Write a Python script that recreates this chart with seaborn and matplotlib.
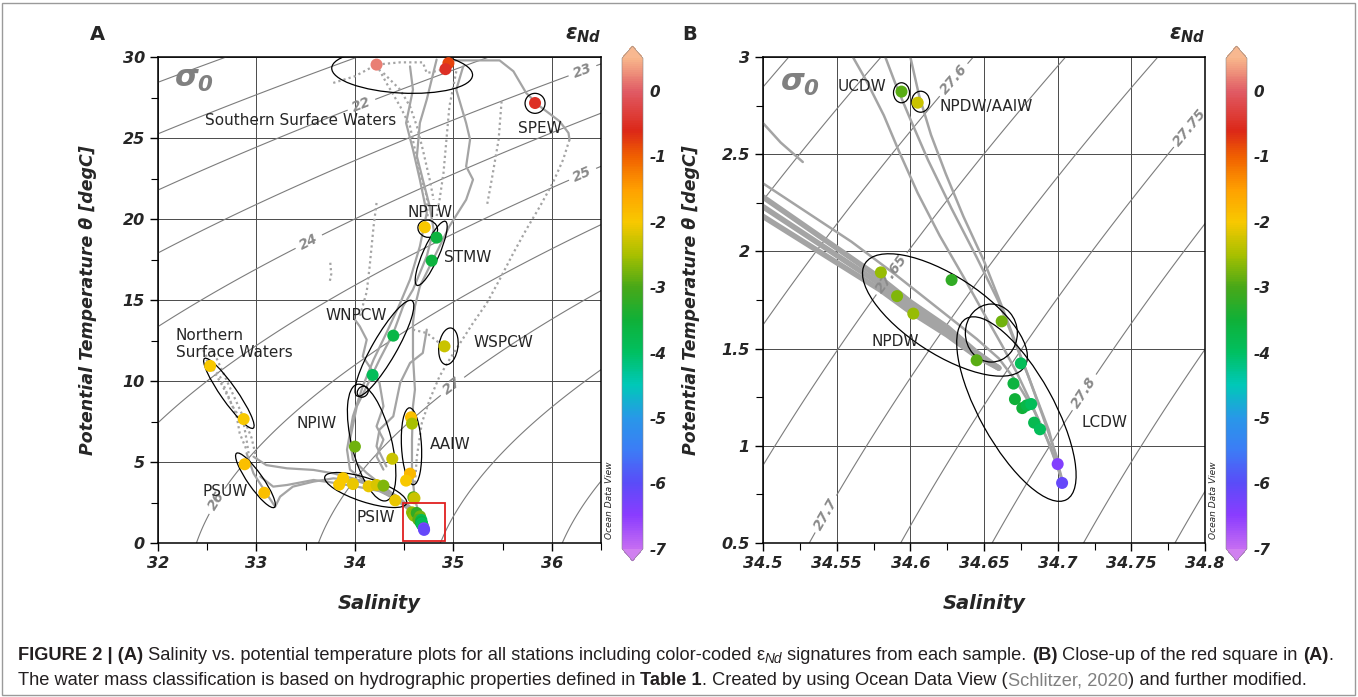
import numpy as np
import matplotlib
matplotlib.use('Agg')
import matplotlib.pyplot as plt
import matplotlib.transforms as mtrans
from matplotlib.patches import Ellipse, Rectangle
from matplotlib.colors import LinearSegmentedColormap, Normalize
from matplotlib.cm import ScalarMappable
from matplotlib.ticker import MultipleLocator, FormatStrFormatter
import seaborn as sns

sns.set_style('white')
plt.rcParams['font.family'] = ['DejaVu Sans']
plt.rcParams['mathtext.fontset'] = 'custom'
plt.rcParams['mathtext.it'] = 'DejaVu Sans:italic:bold'
plt.rcParams['mathtext.rm'] = 'DejaVu Sans:italic:bold'

W, H = 1358, 697

# --- eNd samples, panel A (shallow / intermediate waters)
SAL_A = [34.22, 34.95, 34.92, 35.83, 34.71, 34.83, 34.78, 34.39, 34.18, 34.91,
         34.00, 34.38, 34.57, 34.58, 34.56, 34.52, 33.88, 33.84, 33.98, 34.14,
         34.22, 34.29, 34.41, 32.53, 32.87, 32.88, 33.08]
TEMP_A = [29.53, 29.62, 29.25, 27.16, 19.49, 18.85, 17.43, 12.80, 10.37, 12.14,
          5.95, 5.20, 7.76, 7.37, 4.28, 3.85, 4.00, 3.60, 3.64, 3.50,
          3.58, 3.54, 2.63, 10.93, 7.65, 4.86, 3.10]
EPS_A = [0.2, -0.8, -0.5, -0.5, -2.0, -3.6, -3.6, -3.7, -3.9, -2.3,
         -2.8, -2.3, -1.9, -2.5, -1.8, -2.0, -2.0, -2.0, -2.1, -2.1,
         -2.2, -2.7, -2.1, -2.0, -2.0, -1.9, -1.9]

# --- eNd samples, deep waters (red square / panel B)
SAL_B = [34.594, 34.605, 34.580, 34.591, 34.602, 34.628, 34.662, 34.645, 34.675,
         34.670, 34.671, 34.676, 34.679, 34.682, 34.684, 34.688, 34.700, 34.703]
TEMP_B = [2.822, 2.765, 1.892, 1.770, 1.680, 1.853, 1.640, 1.440, 1.424,
          1.320, 1.240, 1.194, 1.208, 1.215, 1.119, 1.085, 0.906, 0.809]
EPS_B = [-2.9, -2.3, -2.6, -2.7, -2.6, -3.2, -2.8, -2.9, -3.9,
         -3.6, -3.5, -3.5, -3.7, -3.9, -3.8, -3.9, -6.4, -6.1]

# --- CTD profiles, panel A (solid)
spew_s = [34.93, 35.47, 35.61, 35.74, 35.88, 36.08, 36.17, 36.18]
spew_t = [29.79, 29.79, 29.12, 27.78, 26.95, 26.03, 25.31, 24.90]
main_s = [35.10, 35.03, 35.13, 35.17, 35.13, 35.20, 35.13, 34.96, 34.86, 34.76,
          34.66, 34.61, 34.59, 34.59, 34.61, 34.59, 34.58, 34.58, 34.61, 34.69]
main_t = [29.42, 27.98, 25.92, 24.90, 23.25, 22.43, 21.19, 19.55, 18.31, 17.08,
          15.84, 14.61, 13.58, 11.52, 9.47, 8.44, 6.38, 4.32, 2.67, 1.03]
np1_s = [34.83, 34.73, 34.66, 34.63, 34.69, 34.76, 34.80, 34.73, 34.59, 34.49,
         34.39, 34.25, 34.12, 34.02, 33.95, 33.98, 34.12, 34.29, 34.46, 34.59, 34.69]
np1_t = [29.84, 27.37, 25.93, 23.87, 22.43, 20.78, 19.34, 17.70, 15.64, 14.61,
         12.96, 11.32, 9.67, 8.44, 6.38, 5.14, 4.32, 3.50, 2.67, 1.85, 1.03]
np2_s = [34.56, 34.59, 34.52, 34.59, 34.66, 34.73, 34.66, 34.56, 34.46, 34.32,
         34.19, 34.08, 33.98, 33.92, 33.95, 34.08, 34.25, 34.46, 34.63, 34.71]
np2_t = [29.42, 27.98, 25.93, 24.28, 22.43, 20.37, 18.31, 16.26, 14.81, 12.96,
         11.32, 9.67, 7.82, 5.76, 4.53, 3.91, 3.29, 2.47, 1.65, 0.82]
wig1_s = [34.00, 34.05, 34.12, 34.08, 34.17, 34.25, 34.29, 34.22, 34.29, 34.22, 34.29]
wig1_t = [13.79, 13.37, 12.55, 11.52, 10.70, 9.88, 8.44, 7.20, 6.38, 5.35, 4.53]
wig2_s = [34.73, 34.69, 34.56, 34.46, 34.39, 34.25, 34.22, 34.32]
wig2_t = [13.17, 11.73, 11.11, 9.88, 7.82, 7.00, 5.97, 4.73]
nsol1_s = [32.90, 32.97, 33.10, 33.19, 33.24, 33.37, 33.58, 33.78, 33.98, 34.20, 34.40, 34.55, 34.65, 34.70]
nsol1_t = [5.54, 4.30, 3.07, 2.24, 2.86, 3.48, 3.79, 3.99, 3.89, 3.50, 2.90, 2.20, 1.60, 1.00]
nsol2_s = [32.97, 33.10, 33.31, 33.58, 33.78, 33.98, 34.20, 34.40, 34.55, 34.67, 34.71]
nsol2_t = [5.33, 4.81, 4.61, 4.51, 4.30, 3.99, 3.60, 3.00, 2.30, 1.50, 0.90]
nsol3_s = [33.04, 33.17, 33.31, 33.58, 33.78, 34.02, 34.25, 34.45, 34.60, 34.68]
nsol3_t = [4.10, 3.48, 3.58, 3.89, 3.72, 3.48, 3.20, 2.60, 1.90, 1.20]

# --- CTD profiles, panel A (dotted)
spewd_s = [36.18, 36.115, 36.01, 35.88, 35.74, 35.61, 35.47, 35.34, 35.20, 35.07,
           34.96, 34.86, 34.76, 34.68, 34.63, 34.61]
spewd_t = [24.90, 23.66, 22.22, 20.78, 19.34, 17.90, 16.26, 14.81, 13.58, 12.35,
           11.32, 10.29, 8.85, 7.41, 5.35, 3.70]
ndot1_s = [32.46, 32.56, 32.66, 32.76, 32.87, 32.90, 32.92]
ndot1_t = [11.91, 10.68, 9.65, 8.41, 7.39, 6.36, 5.54]
ndot2_s = [32.49, 32.63, 32.73, 32.80, 32.83, 32.90]
ndot2_t = [11.30, 10.27, 8.83, 7.80, 6.77, 5.74]
ndot3_s = [32.55, 32.70, 32.85, 32.95, 33.00]
ndot3_t = [12.00, 10.00, 8.00, 6.50, 5.20]
udot1_s = [33.78, 34.00, 34.22, 34.46, 34.69, 34.73, 34.93]
udot1_t = [28.40, 28.81, 29.53, 29.67, 29.67, 29.01, 29.26]
udot2_s = [34.22, 34.32, 34.46, 34.56, 34.61, 34.66, 34.73, 34.74]
udot2_t = [29.53, 28.40, 26.95, 25.72, 24.28, 22.84, 21.40, 19.96]
udot3_s = [34.29, 34.46, 34.56, 34.63, 34.69, 34.76, 34.80]
udot3_t = [29.01, 27.98, 26.95, 25.72, 24.28, 22.43, 21.19]
udot4_s = [35.03, 34.96, 34.93, 34.90, 34.86, 34.83]
udot4_t = [29.12, 26.95, 24.90, 22.84, 21.19, 20.16]
udot5_s = [34.22, 34.19, 34.17, 34.15, 34.12, 34.05]
udot5_t = [20.99, 19.55, 18.31, 17.08, 15.50, 14.00]
udot6_s = [35.49, 35.46, 35.39, 35.34]
udot6_t = [27.26, 24.90, 22.43, 20.78]
udot7_s = [34.59, 34.73, 34.90]
udot7_t = [13.17, 12.96, 12.14]
udot8_s = [33.75, 33.76, 33.74]
udot8_t = [17.30, 16.60, 16.00]

# --- CTD profiles, panel B
b1_s = [34.561, 34.570, 34.582, 34.592, 34.605, 34.620, 34.636, 34.650, 34.662, 34.672, 34.682, 34.692, 34.702]
b1_t = [3.00, 2.88, 2.70, 2.52, 2.30, 2.08, 1.87, 1.68, 1.52, 1.38, 1.22, 1.05, 0.85]
b2_s = [34.583, 34.590, 34.600, 34.612, 34.628, 34.645, 34.660, 34.670, 34.680, 34.690, 34.700]
b2_t = [3.00, 2.86, 2.68, 2.47, 2.22, 1.97, 1.74, 1.55, 1.36, 1.15, 0.93]
b3_s = [34.600, 34.606, 34.614, 34.624, 34.636, 34.650, 34.662, 34.672, 34.683, 34.694, 34.704]
b3_t = [3.00, 2.80, 2.60, 2.40, 2.18, 1.95, 1.72, 1.52, 1.30, 1.08, 0.80]
b4_s = [34.500, 34.512, 34.527]
b4_t = [2.66, 2.56, 2.46]
b5_s = [34.500, 34.530, 34.560, 34.590, 34.620, 34.645, 34.660, 34.672, 34.684, 34.695, 34.703]
b5_t = [2.35, 2.20, 2.05, 1.88, 1.70, 1.55, 1.45, 1.33, 1.18, 1.00, 0.82]
band_s = [34.500, 34.540, 34.580, 34.600, 34.625, 34.645, 34.660]
band_top_t = [2.28, 2.07, 1.86, 1.74, 1.61, 1.48, 1.40]
band_mid_t = [2.23, 2.03, 1.83, 1.72, 1.59, 1.47, 1.40]
band_bot_t = [2.18, 1.99, 1.80, 1.69, 1.57, 1.46, 1.40]

# colour scale (ODV style)
CB_VALUES = [-7.0, -6.5, -6.0, -5.5, -5.0, -4.5, -4.0, -3.5, -3.0, -2.5, -2.0, -1.5, -1.0, -0.6, 0.0, 0.5]
CB_COLORS = ['#c46cf2', '#8a3cff', '#5a4cf8', '#3c7cf6', '#2898e8', '#00c8b8', '#00c060', '#10b038',
             '#48a818', '#a8c000', '#f8c800', '#ffa000', '#f06000', '#dc2818', '#e05a64', '#f7b48a']
VMIN, VMAX = -7, 0.5
pos = [(v - VMIN) / (VMAX - VMIN) for v in CB_VALUES]
cmap = LinearSegmentedColormap.from_list('odv', list(zip(pos, CB_COLORS)))
cmap.set_over('#f8b890')
cmap.set_under('#d080f0')
norm = Normalize(VMIN, VMAX)

TRACE_GREY = '#a4a4a4'
DOTTED = (0, (1, 1.4))


def sigma0(S, T):
    # UNESCO EOS-80 at the surface
    rw = (999.842594 + 6.793952e-2 * T - 9.095290e-3 * T**2 + 1.001685e-4 * T**3
          - 1.120083e-6 * T**4 + 6.536332e-9 * T**5)
    A = 8.24493e-1 - 4.0899e-3 * T + 7.6438e-5 * T**2 - 8.2467e-7 * T**3 + 5.3875e-9 * T**4
    B = -5.72466e-3 + 1.0227e-4 * T - 1.6546e-6 * T**2
    return rw + A * S + B * S**1.5 + 4.8314e-4 * S**2 - 1000


def ring(ax, s, t, w, h, ang, color='black'):
    tr = ax.figure.dpi_scale_trans + mtrans.ScaledTranslation(s, t, ax.transData)
    ax.add_patch(Ellipse((0, 0), w / 100, h / 100, angle=ang, fill=False, ec=color,
                         lw=0.9, transform=tr, zorder=4))


def style_axis(ax, xmaj, xmin, ymaj, ymin):
    ax.xaxis.set_major_locator(MultipleLocator(xmaj))
    ax.xaxis.set_minor_locator(MultipleLocator(xmin))
    ax.yaxis.set_major_locator(MultipleLocator(ymaj))
    ax.yaxis.set_minor_locator(MultipleLocator(ymin))
    ax.xaxis.set_major_formatter(FormatStrFormatter('%g'))
    ax.yaxis.set_major_formatter(FormatStrFormatter('%g'))
    ax.tick_params(which='both', direction='out', bottom=True, left=True, top=False, right=False,
                   color='black')
    ax.tick_params(which='major', length=6, width=1)
    ax.tick_params(which='minor', length=5, width=0.8)
    for lab in ax.get_xticklabels() + ax.get_yticklabels():
        lab.set_fontweight('bold')
        lab.set_fontstyle('italic')
        lab.set_fontsize(11.5)
    ax.grid(True, which='major', color='#4a4a4a', lw=0.7, zorder=0)
    for sp in ax.spines.values():
        sp.set_color('black')
        sp.set_linewidth(1.1)
    ax.set_xlabel('Salinity', fontsize=14, fontweight='bold', fontstyle='italic')
    ax.set_ylabel('Potential Temperature θ [degC]', fontsize=12.5, fontweight='bold',
                  fontstyle='italic')
    ax.xaxis.set_label_coords(0.5, -0.105)


def label_contours(ax, cs, spots):
    labs = ax.clabel(cs, fmt='%g', fontsize=10, colors='#8a8a8a', inline=True,
                     inline_spacing=6, manual=spots)
    for t in labs:
        t.set_fontweight('bold')
        t.set_fontstyle('italic')


fig = plt.figure(figsize=(W / 100, H / 100), dpi=100)
axA = fig.add_axes([158 / W, 1 - 543 / H, 443 / W, 486 / H])
axB = fig.add_axes([763 / W, 1 - 543 / H, 442 / W, 486 / H])

# ---------------- Panel A
axA.set_xlim(32, 36.5)
axA.set_ylim(0, 30)
Sg, Tg = np.meshgrid(np.linspace(31.9, 36.6, 300), np.linspace(-0.5, 30.5, 300))
csA = axA.contour(Sg, Tg, sigma0(Sg, Tg), levels=np.arange(20, 30), colors='#7c7c7c',
                  linewidths=0.8, zorder=1)
label_contours(axA, csA, [(34.07, 27.0), (36.31, 29.18), (33.54, 18.5), (36.31, 22.8),
                          (32.58, 2.65), (35.0, 9.6)])

for s, t in [(spew_s, spew_t), (main_s, main_t), (np1_s, np1_t), (np2_s, np2_t),
             (wig1_s, wig1_t), (wig2_s, wig2_t), (nsol1_s, nsol1_t), (nsol2_s, nsol2_t),
             (nsol3_s, nsol3_t)]:
    axA.plot(s, t, color=TRACE_GREY, lw=1.6, zorder=2, solid_capstyle='round')
for s, t in [(spewd_s, spewd_t), (ndot1_s, ndot1_t), (ndot2_s, ndot2_t), (ndot3_s, ndot3_t),
             (udot1_s, udot1_t), (udot2_s, udot2_t), (udot3_s, udot3_t), (udot4_s, udot4_t),
             (udot5_s, udot5_t), (udot6_s, udot6_t), (udot7_s, udot7_t), (udot8_s, udot8_t)]:
    axA.plot(s, t, color=TRACE_GREY, lw=1.6, ls=DOTTED, zorder=2)

ELL_A = [(34.48, 29.1, 141, 43, -3), (35.83, 27.14, 20, 20, 0), (34.74, 19.4, 20, 17, -20),
         (34.775, 17.88, 70, 16, 66), (34.30, 12.02, 110, 24, 60), (34.08, 9.34, 12, 10, 45),
         (34.17, 6.2, 120, 40, 104), (34.95, 12.14, 19, 37, -8), (34.575, 5.97, 20, 77, 3),
         (34.11, 3.27, 86, 24, -18), (32.72, 9.24, 85, 16, -55), (32.99, 3.87, 66, 15, -55)]
for e in ELL_A:
    ring(axA, *e)

sns.scatterplot(x=SAL_A + SAL_B, y=TEMP_A + TEMP_B, hue=EPS_A + EPS_B, palette=cmap,
                hue_norm=norm, s=75, linewidth=0, legend=False, ax=axA, zorder=5)
axA.add_patch(Rectangle((34.49, 0.12), 0.43, 2.33, fill=False, ec='#e02020', lw=1.3, zorder=6))

LABELS_A = [('Southern Surface Waters', 32.48, 26.1, 'left'), ('SPEW', 35.88, 25.6, 'center'),
            ('NPTW', 34.76, 20.4, 'center'), ('STMW', 34.91, 17.65, 'left'),
            ('WNPCW', 34.01, 14.07, 'center'), ('WSPCW', 35.20, 12.35, 'left'),
            ('Northern\nSurface Waters', 32.18, 12.3, 'left'), ('NPIW', 33.61, 7.35, 'center'),
            ('AAIW', 34.76, 6.05, 'left'), ('PSUW', 32.68, 3.2, 'center'), ('PSIW', 34.21, 1.6, 'center')]
for txt, x, y, ha in LABELS_A:
    axA.text(x, y, txt, fontsize=11, ha=ha, va='center', zorder=7, linespacing=1.2)
axA.text(32.36, 28.6, r'$\sigma_0$', fontsize=22, color='#808080', ha='center', va='center')
style_axis(axA, 1, 0.5, 5, 2.5)
axA.yaxis.set_label_coords(-0.138, 0.5)

# ---------------- Panel B
axB.set_xlim(34.5, 34.8)
axB.set_ylim(0.5, 3)
Sb, Tb = np.meshgrid(np.linspace(34.48, 34.82, 300), np.linspace(0.4, 3.1, 300))
csB = axB.contour(Sb, Tb, sigma0(Sb, Tb), levels=np.round(np.arange(27.45, 28.0, 0.05), 2),
                  colors='#7c7c7c', linewidths=0.8, zorder=1)
label_contours(axB, csB, [(34.622, 2.93), (34.581, 1.92), (34.531, 0.70), (34.785, 2.67),
                          (34.713, 1.30)])

for s, t in [(b1_s, b1_t), (b2_s, b2_t), (b3_s, b3_t), (b4_s, b4_t), (b5_s, b5_t)]:
    axB.plot(s, t, color=TRACE_GREY, lw=1.8, zorder=2)
for t in [band_top_t, band_mid_t, band_bot_t]:
    axB.plot(band_s, t, color=TRACE_GREY, lw=4, zorder=2, solid_capstyle='round')

ELL_B = [(34.594, 2.816, 16, 20, 0), (34.607, 2.77, 18, 21, 0), (34.6235, 1.673, 190, 78, -33),
         (34.655, 1.58, 52, 58, 0), (34.672, 1.189, 207, 74, -61)]
for e in ELL_B:
    ring(axB, *e)

sns.scatterplot(x=SAL_B, y=TEMP_B, hue=EPS_B, palette=cmap, hue_norm=norm, s=75, linewidth=0,
                legend=False, ax=axB, zorder=5)
LABELS_B = [('UCDW', 34.567, 2.846, 'center'), ('NPDW/AAIW', 34.62, 2.743, 'left'),
            ('NPDW', 34.59, 1.539, 'center'), ('LCDW', 34.7165, 1.122, 'left')]
for txt, x, y, ha in LABELS_B:
    axB.text(x, y, txt, fontsize=11, ha=ha, va='center', zorder=7)
axB.text(34.525, 2.866, r'$\sigma_0$', fontsize=22, color='#808080', ha='center', va='center')
style_axis(axB, 0.05, 0.025, 0.5, 0.25)
axB.yaxis.set_label_coords(-0.1425, 0.5)

# ---------------- colour bars
for cx, lx in [(622, 583), (1226, 1187)]:
    cax = fig.add_axes([cx / W, 1 - 561 / H, 21 / W, 515 / H])
    cb = fig.colorbar(ScalarMappable(norm=norm, cmap=cmap), cax=cax, extend='both',
                      extendfrac=0.025)
    cb.set_ticks(list(range(-7, 1)))
    cb.ax.yaxis.set_major_formatter(FormatStrFormatter('%d'))
    cb.ax.tick_params(axis='y', direction='in', left=True, right=True, length=5, width=1.2,
                      color='#333333', pad=5)
    cb.ax.minorticks_off()
    for lab in cb.ax.get_yticklabels():
        lab.set_fontweight('bold')
        lab.set_fontstyle('italic')
        lab.set_fontsize(11)
    cb.outline.set_linewidth(0.4)
    cb.outline.set_edgecolor('#888888')
    fig.text(lx / W, 1 - 35 / H, r'$\varepsilon_{Nd}$', fontsize=15, ha='center', va='center')
    fig.text((cx - 13) / W, 1 - 500 / H, 'Ocean Data View', fontsize=6.5, fontstyle='italic',
             rotation=90, ha='center', va='center')

fig.text(97 / W, 1 - 35 / H, 'A', fontsize=14, fontweight='bold', ha='center', va='center')
fig.text(690 / W, 1 - 35 / H, 'B', fontsize=14, fontweight='bold', ha='center', va='center')

# ---------------- caption
renderer = fig.canvas.get_renderer()


def run_kw(kind, fs):
    kw = dict(fontsize=fs, family='Liberation Sans', color='#231f20')
    if kind == 'b':
        kw['fontweight'] = 'bold'
    elif kind == 'g':
        kw['color'] = '#808080'
    elif kind == 'sub':
        kw['fontsize'] = fs * 0.75
        kw['fontstyle'] = 'italic'
    return kw


def run_width(s, kw):
    t1 = fig.text(0, 0, '|' + s + '|', **kw)
    t2 = fig.text(0, 0, '||', **kw)
    w = t1.get_window_extent(renderer).width - t2.get_window_extent(renderer).width
    t1.remove()
    t2.remove()
    return w


CAP1 = [('FIGURE 2 | (A)', 'b'),
        (' Salinity vs. potential temperature plots for all stations including color-coded ', 'n'),
        ('ε', 'n'), ('Nd', 'sub'), (' signatures from each sample. ', 'n'), ('(B)', 'b'),
        (' Close-up of the red square in ', 'n'), ('(A)', 'b'), ('.', 'n')]
CAP2 = [('The water mass classification is based on hydrographic properties defined in ', 'n'),
        ('Table 1', 'b'), ('. Created by using Ocean Data View (', 'n'), ('Schlitzer, 2020', 'g'),
        (') and further modified.', 'n')]

total = sum(run_width(s, run_kw(k, 10)) for s, k in CAP1)
fs = 10 * 1317 / total
for runs, ybase in [(CAP1, 660), (CAP2, 685)]:
    x = 18
    for s, k in runs:
        kw = run_kw(k, fs)
        dy = 3 if k == 'sub' else 0
        fig.text(x / W, 1 - (ybase + dy) / H, s, va='baseline', ha='left', **kw)
        x += run_width(s, kw)

fig.add_artist(Rectangle((2 / W, 2 / H), 1 - 5 / W, 1 - 5 / H, transform=fig.transFigure,
                         fill=False, ec='#9a9a9a', lw=1))

fig.savefig('out.png', dpi=100)
